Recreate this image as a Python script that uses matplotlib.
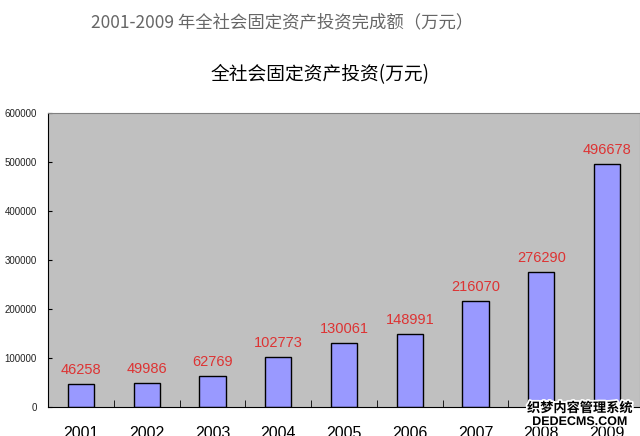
import numpy as np
import matplotlib.pyplot as plt
import matplotlib.patheffects as pe
from matplotlib.ticker import FixedLocator

plt.rcParams['font.family'] = ['Liberation Sans', 'Noto Sans CJK SC', 'DejaVu Sans']

years = ['2001', '2002', '2003', '2004', '2005', '2006', '2007', '2008', '2009']
invest = [46258, 49986, 62769, 102773, 130061, 148991, 216070, 276290, 496678]
yticks = [0, 100000, 200000, 300000, 400000, 500000, 600000]

fig = plt.figure(figsize=(6.4, 4.36), dpi=100)
ax = fig.add_axes([48 / 640, 1 - 407 / 436, 592 / 640, 294 / 436])

x = np.arange(len(years))
ax.bar(x, invest, width=0.4, color='#9999ff', edgecolor='black', linewidth=1)

for xi, v in zip(x, invest):
    ax.annotate(str(v), (xi, v), xytext=(0, 5), textcoords='offset points',
                ha='center', va='bottom', color='#dd3333', fontsize=10.5)

ax.set_facecolor('#c0c0c0')
ax.set_xlim(-0.5, len(years) - 0.5)
ax.set_ylim(0, 600000)
ax.set_yticks(yticks)
ax.set_yticklabels([str(t) for t in yticks], fontsize=7, color='#222222')
ax.tick_params(axis='y', direction='in', length=3, pad=8)

ax.set_xticks(x)
ax.set_xticklabels(years, fontsize=11.5)
ax.tick_params(axis='x', length=0, pad=14)
ax.xaxis.set_minor_locator(FixedLocator(np.arange(0.5, len(years) - 0.5, 1)))
ax.tick_params(axis='x', which='minor', direction='in', length=5, color='black')

ax.spines['top'].set_color('#808080')
ax.spines['right'].set_color('#808080')
ax.spines['left'].set_color('black')
ax.spines['bottom'].set_color('black')

fig.text(282 / 640, 1 - 22 / 436, '2001-2009 年全社会固定资产投资完成额（万元）',
         ha='center', va='center', fontsize=12.5, color='#666666',
         family=['Noto Sans CJK SC', 'DejaVu Sans'])
fig.text(320 / 640, 1 - 75 / 436, '全社会固定资产投资(万元)',
         ha='center', va='center', fontsize=13.5, color='black',
         family=['Noto Sans CJK SC', 'DejaVu Sans'])

# watermark in the corner
wm = [pe.withStroke(linewidth=2.5, foreground='white')]
fig.text(580 / 640, 1 - 408 / 436, '织梦内容管理系统', ha='center', va='center',
         fontsize=9.5, fontweight='bold', color='black', path_effects=wm,
         family=['Noto Sans CJK SC', 'DejaVu Sans'])
fig.text(580 / 640, 1 - 422 / 436, 'DEDECMS.COM', ha='center', va='center',
         fontsize=9, fontweight='bold', color='black', path_effects=wm)

fig.savefig('out.png', dpi=100)
